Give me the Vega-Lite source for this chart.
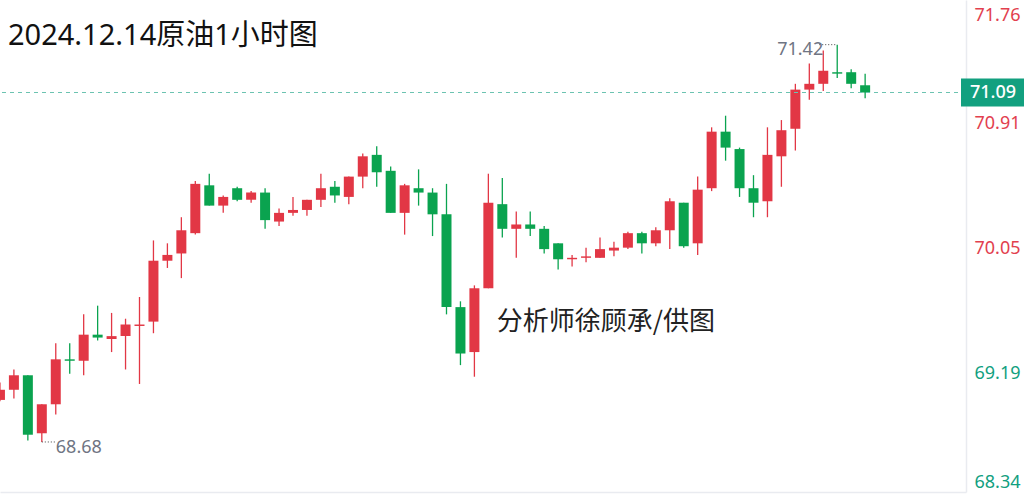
{
  "$schema": "https://vega.github.io/schema/vega-lite/v6.json",
  "width": 966,
  "height": 492,
  "autosize": {"type": "none"},
  "padding": {"left": 0, "top": 0, "right": 63, "bottom": 6},
  "background": "white",
  "config": {"view": {"stroke": null}, "font": "Noto Sans, Noto Sans CJK SC"},
  "title": {
    "text": "2024.12.14原油1小时图",
    "anchor": "start",
    "frame": "group",
    "orient": "top",
    "offset": -74,
    "baseline": "alphabetic",
    "fontSize": 29,
    "fontWeight": "normal",
    "font": "Noto Sans, Noto Sans CJK SC",
    "color": "#111111",
    "dx": 8
  },
  "datasets": {
    "candles": [
      {"i": -1, "o": 68.97, "h": 69.09, "l": 68.96, "c": 69.04},
      {"i": 0, "o": 69.04, "h": 69.18, "l": 68.98, "c": 69.14},
      {"i": 1, "o": 69.14, "h": 69.14, "l": 68.69, "c": 68.73},
      {"i": 2, "o": 68.74, "h": 68.94, "l": 68.68, "c": 68.94},
      {"i": 3, "o": 68.94, "h": 69.36, "l": 68.87, "c": 69.25},
      {"i": 4, "o": 69.25, "h": 69.36, "l": 69.15, "c": 69.24},
      {"i": 5, "o": 69.24, "h": 69.56, "l": 69.14, "c": 69.42},
      {"i": 6, "o": 69.42, "h": 69.62, "l": 69.38, "c": 69.40},
      {"i": 7, "o": 69.39, "h": 69.57, "l": 69.30, "c": 69.41},
      {"i": 8, "o": 69.41, "h": 69.53, "l": 69.18, "c": 69.49},
      {"i": 9, "o": 69.48, "h": 69.68, "l": 69.08, "c": 69.49},
      {"i": 10, "o": 69.51, "h": 70.07, "l": 69.43, "c": 69.93},
      {"i": 11, "o": 69.93, "h": 70.05, "l": 69.88, "c": 69.97},
      {"i": 12, "o": 69.98, "h": 70.23, "l": 69.81, "c": 70.14},
      {"i": 13, "o": 70.12, "h": 70.48, "l": 70.11, "c": 70.46},
      {"i": 14, "o": 70.45, "h": 70.53, "l": 70.31, "c": 70.31},
      {"i": 15, "o": 70.31, "h": 70.38, "l": 70.26, "c": 70.37},
      {"i": 16, "o": 70.43, "h": 70.44, "l": 70.34, "c": 70.35},
      {"i": 17, "o": 70.35, "h": 70.41, "l": 70.33, "c": 70.40},
      {"i": 18, "o": 70.40, "h": 70.43, "l": 70.15, "c": 70.21},
      {"i": 19, "o": 70.20, "h": 70.29, "l": 70.17, "c": 70.26},
      {"i": 20, "o": 70.26, "h": 70.37, "l": 70.24, "c": 70.28},
      {"i": 21, "o": 70.28, "h": 70.35, "l": 70.24, "c": 70.35},
      {"i": 22, "o": 70.35, "h": 70.53, "l": 70.30, "c": 70.43},
      {"i": 23, "o": 70.44, "h": 70.48, "l": 70.33, "c": 70.38},
      {"i": 24, "o": 70.37, "h": 70.51, "l": 70.32, "c": 70.51},
      {"i": 25, "o": 70.51, "h": 70.67, "l": 70.43, "c": 70.65},
      {"i": 26, "o": 70.66, "h": 70.72, "l": 70.44, "c": 70.54},
      {"i": 27, "o": 70.55, "h": 70.58, "l": 70.26, "c": 70.26},
      {"i": 28, "o": 70.26, "h": 70.46, "l": 70.11, "c": 70.45},
      {"i": 29, "o": 70.43, "h": 70.56, "l": 70.31, "c": 70.40},
      {"i": 30, "o": 70.40, "h": 70.43, "l": 70.10, "c": 70.25},
      {"i": 31, "o": 70.25, "h": 70.46, "l": 69.56, "c": 69.61},
      {"i": 32, "o": 69.61, "h": 69.65, "l": 69.21, "c": 69.29},
      {"i": 33, "o": 69.30, "h": 69.76, "l": 69.13, "c": 69.74},
      {"i": 34, "o": 69.74, "h": 70.53, "l": 69.74, "c": 70.33},
      {"i": 35, "o": 70.32, "h": 70.50, "l": 70.09, "c": 70.15},
      {"i": 36, "o": 70.15, "h": 70.27, "l": 69.95, "c": 70.18},
      {"i": 37, "o": 70.18, "h": 70.27, "l": 70.10, "c": 70.15},
      {"i": 38, "o": 70.15, "h": 70.17, "l": 69.98, "c": 70.01},
      {"i": 39, "o": 70.05, "h": 70.05, "l": 69.87, "c": 69.94},
      {"i": 40, "o": 69.94, "h": 69.97, "l": 69.89, "c": 69.95},
      {"i": 41, "o": 69.95, "h": 70.02, "l": 69.92, "c": 69.96},
      {"i": 42, "o": 69.95, "h": 70.09, "l": 69.95, "c": 70.01},
      {"i": 43, "o": 70.00, "h": 70.06, "l": 69.96, "c": 70.02},
      {"i": 44, "o": 70.02, "h": 70.13, "l": 70.01, "c": 70.12},
      {"i": 45, "o": 70.12, "h": 70.13, "l": 69.98, "c": 70.05},
      {"i": 46, "o": 70.05, "h": 70.16, "l": 70.03, "c": 70.14},
      {"i": 47, "o": 70.14, "h": 70.36, "l": 70.01, "c": 70.34},
      {"i": 48, "o": 70.33, "h": 70.33, "l": 70.02, "c": 70.03},
      {"i": 49, "o": 70.05, "h": 70.51, "l": 69.97, "c": 70.42},
      {"i": 50, "o": 70.43, "h": 70.85, "l": 70.41, "c": 70.82},
      {"i": 51, "o": 70.82, "h": 70.93, "l": 70.62, "c": 70.71},
      {"i": 52, "o": 70.70, "h": 70.71, "l": 70.37, "c": 70.43},
      {"i": 53, "o": 70.43, "h": 70.52, "l": 70.23, "c": 70.33},
      {"i": 54, "o": 70.34, "h": 70.85, "l": 70.23, "c": 70.66},
      {"i": 55, "o": 70.65, "h": 70.90, "l": 70.44, "c": 70.83},
      {"i": 56, "o": 70.84, "h": 71.15, "l": 70.69, "c": 71.11},
      {"i": 57, "o": 71.11, "h": 71.29, "l": 71.04, "c": 71.15},
      {"i": 58, "o": 71.15, "h": 71.38, "l": 71.10, "c": 71.24},
      {"i": 59, "o": 71.23, "h": 71.42, "l": 71.19, "c": 71.22},
      {"i": 60, "o": 71.23, "h": 71.25, "l": 71.12, "c": 71.15},
      {"i": 61, "o": 71.14, "h": 71.22, "l": 71.05, "c": 71.09}
    ],
    "last": [{"v": 71.09}],
    "lowNote": [{"i": 2, "v": 68.68}],
    "highNote": [{"i": 59, "v": 71.42}]
  },
  "layer": [
    {
      "data": {"name": "candles"},
      "mark": {"type": "rule", "strokeWidth": 1.3, "clip": true},
      "encoding": {
        "x": {
          "field": "i", "type": "quantitative",
          "scale": {"domain": [-0.638, 67.87], "nice": false, "zero": false},
          "axis": {"orient": "bottom", "labels": false, "ticks": false, "grid": false, "title": null, "domainColor": "#e9ebf0", "domainWidth": 1.5}
        },
        "y": {
          "field": "l", "type": "quantitative",
          "scale": {"domain": [68.335, 71.728], "nice": false, "zero": false},
          "axis": {
            "orient": "right",
            "values": [68.34, 69.19, 70.05, 70.91, 71.72],
            "labelExpr": "datum.value > 71.7 ? '71.76' : format(datum.value, '.2f')",
            "labelFlush": 3,
            "labelPadding": 8,
            "labelAlign": "left",
            "labelFontSize": 18,
            "labelFont": "Noto Sans",
            "labelOffset": {"condition": {"test": "datum.value < 68.4", "value": 0}, "value": 5},
            "labelColor": {"condition": {"test": "datum.value >= 70", "value": "#e2404e"}, "value": "#12a07f"},
            "ticks": false,
            "grid": false,
            "title": null,
            "domainColor": "#e9ebf0",
            "domainWidth": 1.5
          }
        },
        "y2": {"field": "h"},
        "color": {"condition": {"test": "datum.c >= datum.o", "value": "#e23745"}, "value": "#0aa34f"}
      }
    },
    {
      "data": {"name": "candles"},
      "mark": {"type": "bar", "width": 10, "clip": true},
      "encoding": {
        "x": {"field": "i", "type": "quantitative"},
        "y": {"field": "o", "type": "quantitative"},
        "y2": {"field": "c"},
        "color": {"condition": {"test": "datum.c >= datum.o", "value": "#e23745"}, "value": "#0aa34f"}
      }
    },
    {
      "data": {"name": "last"},
      "mark": {"type": "rule", "strokeDash": [4, 4], "color": "#6cc3b1", "strokeWidth": 1},
      "encoding": {"y": {"field": "v", "type": "quantitative"}}
    },
    {
      "data": {"name": "last"},
      "mark": {"type": "rect", "color": "#12a07f", "yOffset": -13.9, "y2Offset": 13.9, "x2Offset": 63},
      "encoding": {
        "x": {"datum": 67.87, "type": "quantitative"},
        "x2": {"datum": 67.87},
        "y": {"field": "v", "type": "quantitative"},
        "y2": {"field": "v"}
      }
    },
    {
      "data": {"name": "last"},
      "mark": {"type": "text", "align": "left", "baseline": "middle", "dx": 9, "color": "white", "fontSize": 18, "fontWeight": 500, "font": "Noto Sans"},
      "encoding": {
        "x": {"datum": 67.87, "type": "quantitative"},
        "y": {"field": "v", "type": "quantitative"},
        "text": {"field": "v", "type": "quantitative", "format": ".2f"}
      }
    },
    {
      "data": {"name": "lowNote"},
      "mark": {"type": "rule", "strokeDash": [1, 2], "color": "#444444", "strokeWidth": 1, "x2Offset": 14},
      "encoding": {
        "x": {"field": "i", "type": "quantitative"},
        "x2": {"field": "i"},
        "y": {"field": "v", "type": "quantitative"}
      }
    },
    {
      "data": {"name": "lowNote"},
      "mark": {"type": "text", "align": "left", "baseline": "middle", "dx": 14, "dy": 6, "color": "#6f7583", "fontSize": 18, "font": "Noto Sans"},
      "encoding": {
        "x": {"field": "i", "type": "quantitative"},
        "y": {"field": "v", "type": "quantitative"},
        "text": {"field": "v", "type": "quantitative", "format": ".2f"}
      }
    },
    {
      "data": {"name": "highNote"},
      "mark": {"type": "rule", "strokeDash": [1, 2], "color": "#444444", "strokeWidth": 1, "xOffset": -18, "x2Offset": -1},
      "encoding": {
        "x": {"field": "i", "type": "quantitative"},
        "x2": {"field": "i"},
        "y": {"field": "v", "type": "quantitative"}
      }
    },
    {
      "data": {"name": "highNote"},
      "mark": {"type": "text", "align": "right", "baseline": "middle", "dx": -14, "dy": 5, "color": "#6f7583", "fontSize": 18, "font": "Noto Sans"},
      "encoding": {
        "x": {"field": "i", "type": "quantitative"},
        "y": {"field": "v", "type": "quantitative"},
        "text": {"field": "v", "type": "quantitative", "format": ".2f"}
      }
    },
    {
      "data": {"values": [{"t": "分析师徐顾承/供图"}]},
      "mark": {"type": "text", "align": "left", "baseline": "middle", "fontSize": 26, "color": "#222222", "font": "Noto Sans CJK SC"},
      "encoding": {
        "x": {"datum": 34.6, "type": "quantitative"},
        "y": {"datum": 69.51, "type": "quantitative"},
        "text": {"field": "t"}
      }
    }
  ]
}
